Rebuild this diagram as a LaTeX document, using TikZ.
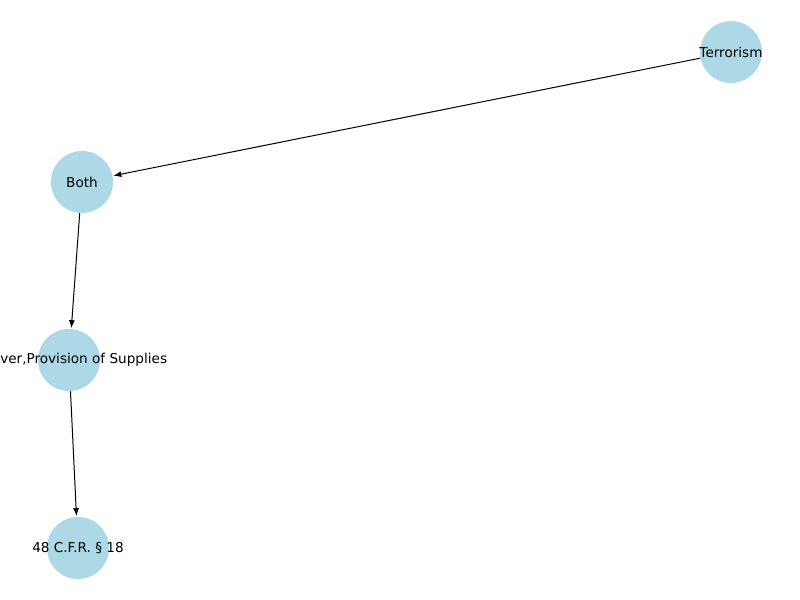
\documentclass[tikz,border=0pt]{standalone}
\usepackage{fontspec}
\setmainfont{DejaVu Sans}
\usetikzlibrary{arrows.meta}
\definecolor{nodeblue}{HTML}{ADD8E6}
\begin{document}
\begin{tikzpicture}[x=0.75pt,y=-0.75pt,
  vertex/.style={circle,fill=nodeblue,draw=none,minimum size=46.5pt,inner sep=0pt},
  lbl/.style={inner sep=0pt,font=\fontsize{10.2}{12}\selectfont},
  edge/.style={-{Latex[length=6pt,width=4.5pt]},line width=0.75pt,shorten >=0.5pt}]
\useasboundingbox (0,0) rectangle (800,600);
\node[vertex] (t) at (731,52) {};
\node[vertex] (b) at (82,182) {};
\node[vertex] (p) at (69,360) {};
\node[vertex] (c) at (78,548) {};
\node[lbl] (tl) at (t) {Terrorism};
\node[lbl] (bl) at (b) {Both};
\node[lbl,anchor=west] (pl) at (0,360) {ver,Provision of Supplies};
\node[lbl] (cl) at (c) {48 C.F.R. § 18};
\draw[edge] (t) -- (b);
\draw[edge] (b) -- (p);
\draw[edge] (p) -- (c);
\end{tikzpicture}
\end{document}
